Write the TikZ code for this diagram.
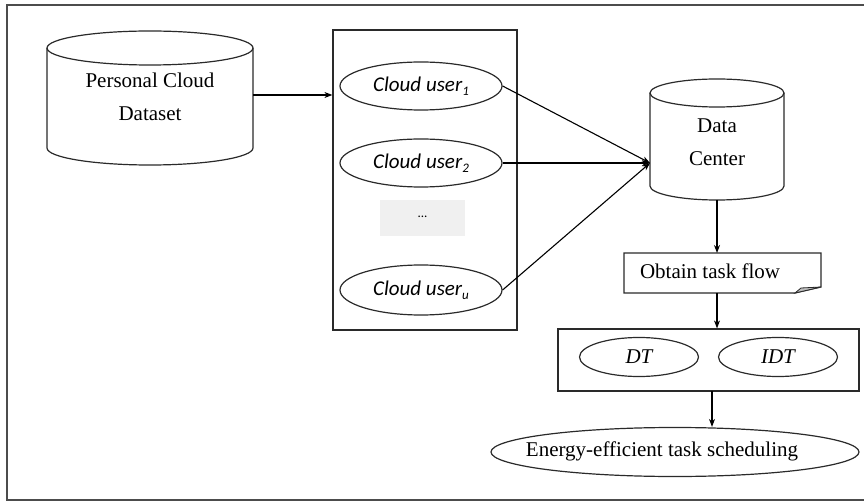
\documentclass[tikz,border=0pt]{standalone}
\usepackage{fontspec}
\setmainfont{Liberation Serif}
\newfontfamily\userfont{Carlito}
\usetikzlibrary{shapes.geometric,arrows.meta,calc}
\definecolor{linegray}{HTML}{2A2A2A}
\definecolor{dotsfill}{HTML}{F0F0F0}
\tikzset{
  conn/.style={draw=black, line width=1.1pt, -{Stealth[length=8pt,width=6pt]}},
  outline/.style={draw=linegray, line width=1.2pt},
  maintext/.style={font=\fontsize{21}{33}\selectfont, align=center, inner sep=0pt},
  userell/.style={ellipse, outline, minimum width=162pt, minimum height=48pt, inner sep=0pt,
    font=\userfont\itshape\fontsize{21}{21}\selectfont},
  tell/.style={ellipse, outline, minimum width=119pt, minimum height=39pt, inner sep=0pt,
    font=\itshape\fontsize{21}{21}\selectfont},
  sub/.style={}
}
\newcommand{\usub}[1]{\raisebox{-4pt}{\fontsize{13}{13}\selectfont #1}}
\begin{document}
\begin{tikzpicture}[x=1pt,y=1pt]
\useasboundingbox (0,0) rectangle (864,-502);
% outer frame
\draw[draw=black!70, line width=1.6pt] (866,-5) -- (7,-5) -- (7,-500) -- (866,-500);

% Personal Cloud Dataset cylinder
\draw[outline] (150,-48) ellipse [x radius=103, y radius=17];
\draw[outline] (47,-48) -- (47,-148) arc[start angle=180, end angle=360, x radius=103, y radius=17] -- (253,-48);
\node[maintext] (pcd) at (150,-97) {Personal Cloud\\Dataset};
\coordinate (pcdR) at (253,-95);

% users box
\node[outline, rectangle, minimum width=184pt, minimum height=300pt, inner sep=0pt] (ubox) at (425,-180) {};
\node[userell] (u1) at (421,-86) {Cloud user\usub{1}};
\node[userell] (u2) at (421,-163) {Cloud user\usub{2}};
\node[rectangle, fill=dotsfill, minimum width=85pt, minimum height=36pt, inner sep=0pt,
  font=\userfont\fontsize{13}{13}\selectfont] (dots) at (422.5,-218) {\raisebox{2pt}{...}};
\node[userell, minimum height=50pt] (uu) at (421,-290) {Cloud user\usub{\itshape u}};

\draw[conn] (pcdR) -- (pcdR -| ubox.west);

% Data Center cylinder
\draw[outline] (717,-93) ellipse [x radius=67, y radius=14];
\draw[outline] (650,-93) -- (650,-186) arc[start angle=180, end angle=360, x radius=67, y radius=14] -- (784,-93);
\node[maintext] (dc) at (717,-142.5) {Data\\Center};
\coordinate (dcin) at (650,-163);
\coordinate (dcbot) at (717,-200);

\draw[conn] (u1.east) -- (dcin);
\draw[conn] (u2.east) -- (dcin);
\draw[conn] (uu.east) -- (dcin);

% Obtain task flow (folded corner)
\draw[outline] (624,-253) -- (821,-253) -- (821,-287) -- (795,-293) -- (624,-293) -- cycle;
\filldraw[draw=linegray, fill=black!25, line width=0.8pt] (795,-293) -- (801,-288) -- (821,-287) -- cycle;
\node[maintext] (otf) at (710,-271) {Obtain task flow};
\coordinate (otfT) at (717,-253);
\coordinate (otfB) at (717,-293);
\draw[conn] (dcbot) -- (otfT);

% DT / IDT box
\node[outline, rectangle, minimum width=301pt, minimum height=62pt, inner sep=0pt] (tbox) at (708.5,-360) {};
\node[tell] (dt) at (639,-357) {DT};
\node[tell] (idt) at (778,-357) {IDT};
\draw[conn] (otfB) -- (otfB |- tbox.north);

% Energy-efficient task scheduling
\node[ellipse, outline, minimum width=368pt, minimum height=49pt, inner sep=0pt] (ees) at (675,-452) {};
\node[maintext] (eest) at (662,-451) {Energy-efficient task scheduling};
\coordinate (tboxB) at (712,-391);
\draw[conn] (tboxB) -- (tboxB |- ees.north);
\end{tikzpicture}
\end{document}
